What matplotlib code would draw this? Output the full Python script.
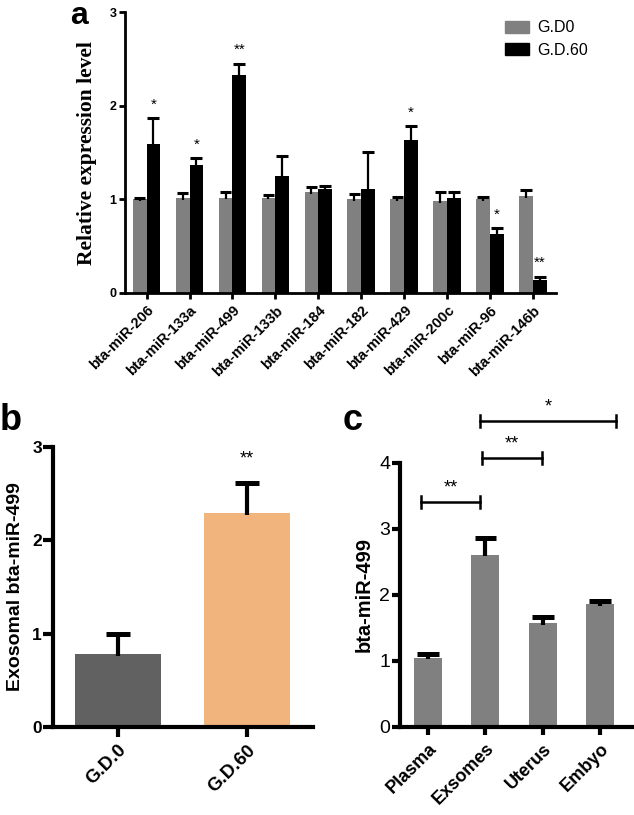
import numpy as np
import matplotlib
matplotlib.use("Agg")
import matplotlib.pyplot as plt
from matplotlib.patches import Patch

plt.rcParams["font.family"] = ["Liberation Sans", "DejaVu Sans"]

# ── panel a: miRNA expression, G.D0 vs G.D.60 ───────────────────────────────
mirnas = ["bta-miR-206", "bta-miR-133a", "bta-miR-499", "bta-miR-133b",
          "bta-miR-184", "bta-miR-182", "bta-miR-429", "bta-miR-200c",
          "bta-miR-96", "bta-miR-146b"]
gd0 = [1.00, 1.01, 1.02, 1.02, 1.08, 1.00, 1.00, 0.98, 1.00, 1.04]
gd0_err = [0.02, 0.06, 0.06, 0.03, 0.05, 0.06, 0.03, 0.10, 0.025, 0.06]
gd60 = [1.59, 1.37, 2.33, 1.25, 1.11, 1.11, 1.63, 1.01, 0.63, 0.14]
gd60_err = [0.28, 0.07, 0.12, 0.21, 0.03, 0.40, 0.15, 0.07, 0.06, 0.035]
a_sig = ["*", "*", "**", "", "", "", "*", "", "*", "**"]

# ── panel b: exosomal miR-499 ──────────────────────────────────────────────
b_groups = ["G.D.0", "G.D.60"]
b_vals = [0.78, 2.29]
b_err = [0.22, 0.32]
b_sig = ["", "**"]

# ── panel c: miR-499 across sources ─────────────────────────────────────────
c_groups = ["Plasma", "Exsomes", "Uterus", "Embyo"]
c_vals = [1.05, 2.61, 1.57, 1.86]
c_err = [0.06, 0.26, 0.10, 0.05]
# (x start, x end, height, label)
c_brackets = [(-0.12, 0.91, 3.41, "**"),
              (0.94, 1.99, 4.08, "**"),
              (0.90, 3.28, 4.64, "*")]

GRAY = "#808080"


def style_axes(ax, lw, ticklen):
    for s in ["top", "right"]:
        ax.spines[s].set_visible(False)
    for s in ["left", "bottom"]:
        ax.spines[s].set_linewidth(lw)
    ax.tick_params(width=lw, length=ticklen, direction="out")


def upper_err(ax, xs, vals, errs, cap, lw):
    """Prism-style error bars: only the upper half, one cap on top."""
    xs = np.asarray(xs)
    tops = np.asarray(vals) + np.asarray(errs)
    ax.vlines(xs, np.asarray(vals) - 0.02, tops, color="black", lw=lw, zorder=3)
    ax.hlines(tops, xs - cap / 2, xs + cap / 2, color="black", lw=lw + 0.6,
              zorder=3)


fig = plt.figure(figsize=(6.34, 8.15), dpi=100)

# ---------------------------------------------------------------- panel a
ax_a = fig.add_axes([0.197, 0.6405, 0.680, 0.3445])
x = np.arange(len(mirnas))
w = 0.32
ax_a.bar(x - w / 2, gd0, w, color=GRAY, edgecolor="none")
ax_a.bar(x + w / 2, gd60, w, color="black", edgecolor="none")
upper_err(ax_a, x - w / 2, gd0, gd0_err, 0.26, 1.6)
upper_err(ax_a, x + w / 2, gd60, gd60_err, 0.28, 1.6)
for i, s in enumerate(a_sig):
    if s:
        ax_a.text(x[i] + w / 2, gd60[i] + gd60_err[i] + 0.07, s, ha="center",
                  va="bottom", fontsize=11)
ax_a.set_xlim(-0.506, 9.54)
ax_a.set_ylim(0, 3)
ax_a.set_yticks([0, 1, 2, 3])
ax_a.set_xticks(x)
ax_a.set_xticklabels(mirnas, rotation=45, ha="right", rotation_mode="anchor",
                     fontsize=10.5, fontweight="bold")
for t in ax_a.get_yticklabels():
    t.set_fontweight("bold")
    t.set_fontsize(9)
style_axes(ax_a, 2, 4)
ax_a.tick_params(axis="y", pad=2)
ax_a.set_ylabel("Relative expression level", family="Liberation Serif",
                fontweight="bold", fontsize=15.5, labelpad=9)
ax_a.legend(handles=[Patch(color=GRAY, label="G.D0"),
                     Patch(color="black", label="G.D.60")],
            loc="upper left", bbox_to_anchor=(491 / 634, 1 - 6 / 815),
            bbox_transform=fig.transFigure, frameon=False, fontsize=11.5,
            handlelength=1.5, handleheight=0.8, labelspacing=0.45,
            handletextpad=0.5)
fig.text(70 / 634, 1 - 1 / 815, "a", fontsize=23, fontweight="bold", va="top")

# ---------------------------------------------------------------- panel b
ax_b = fig.add_axes([0.0836, 0.108, 0.41, 0.3435])
xb = np.arange(len(b_groups))
ax_b.bar(xb, b_vals, 0.667, color=["#616161", "#F0B47C"], edgecolor="none")
upper_err(ax_b, xb, b_vals, b_err, 0.19, 3)
for i, s in enumerate(b_sig):
    if s:
        ax_b.text(xb[i], b_vals[i] + b_err[i] + 0.17, s, ha="center",
                  va="bottom", fontsize=13)
ax_b.set_xlim(-0.504, 1.51)
ax_b.set_ylim(0, 3)
ax_b.set_yticks([0, 1, 2, 3])
ax_b.set_xticks(xb)
ax_b.set_xticklabels(b_groups, rotation=45, ha="right", rotation_mode="anchor",
                     fontsize=13.5, fontweight="bold")
for t in ax_b.get_yticklabels():
    t.set_fontweight("bold")
    t.set_fontsize(12.5)
style_axes(ax_b, 3, 7)
ax_b.tick_params(axis="y", pad=1)
ax_b.set_ylabel("Exosomal bta-miR-499", fontweight="bold", fontsize=14,
                labelpad=6)
fig.text(0 / 634, 1 - 430 / 815, "b", fontsize=26, fontweight="bold")

# ---------------------------------------------------------------- panel c
ax_c = fig.add_axes([0.631, 0.108, 0.366, 0.324])
xc = np.arange(len(c_groups))
ax_c.bar(xc, c_vals, 0.49, color=GRAY, edgecolor="none")
upper_err(ax_c, xc, c_vals, c_err, 0.38, 3)
for x0, x1, yb, s in c_brackets:
    ax_c.plot([x0, x1], [yb, yb], color="black", lw=1.8, clip_on=False)
    for xe in (x0, x1):
        ax_c.plot([xe, xe], [yb - 0.09, yb + 0.09], color="black", lw=1.8,
                  clip_on=False)
    ax_c.text((x0 + x1) / 2, yb + 0.08, s, ha="center", va="bottom",
              fontsize=13)
ax_c.set_xlim(-0.49, 3.56)
ax_c.set_ylim(0, 4)
ax_c.set_yticks([0, 1, 2, 3, 4])
ax_c.set_xticks(xc)
ax_c.set_xticklabels(c_groups, rotation=45, ha="right", rotation_mode="anchor",
                     fontsize=13, fontweight="bold")
for t in ax_c.get_yticklabels():
    t.set_fontsize(14)
style_axes(ax_c, 3, 6)
ax_c.tick_params(axis="y", pad=1)
ax_c.set_ylabel("bta-miR-499", fontweight="bold", fontsize=14.5, labelpad=4)
fig.text(343 / 634, 1 - 430 / 815, "c", fontsize=26, fontweight="bold")

fig.savefig("out.png", dpi=100)
